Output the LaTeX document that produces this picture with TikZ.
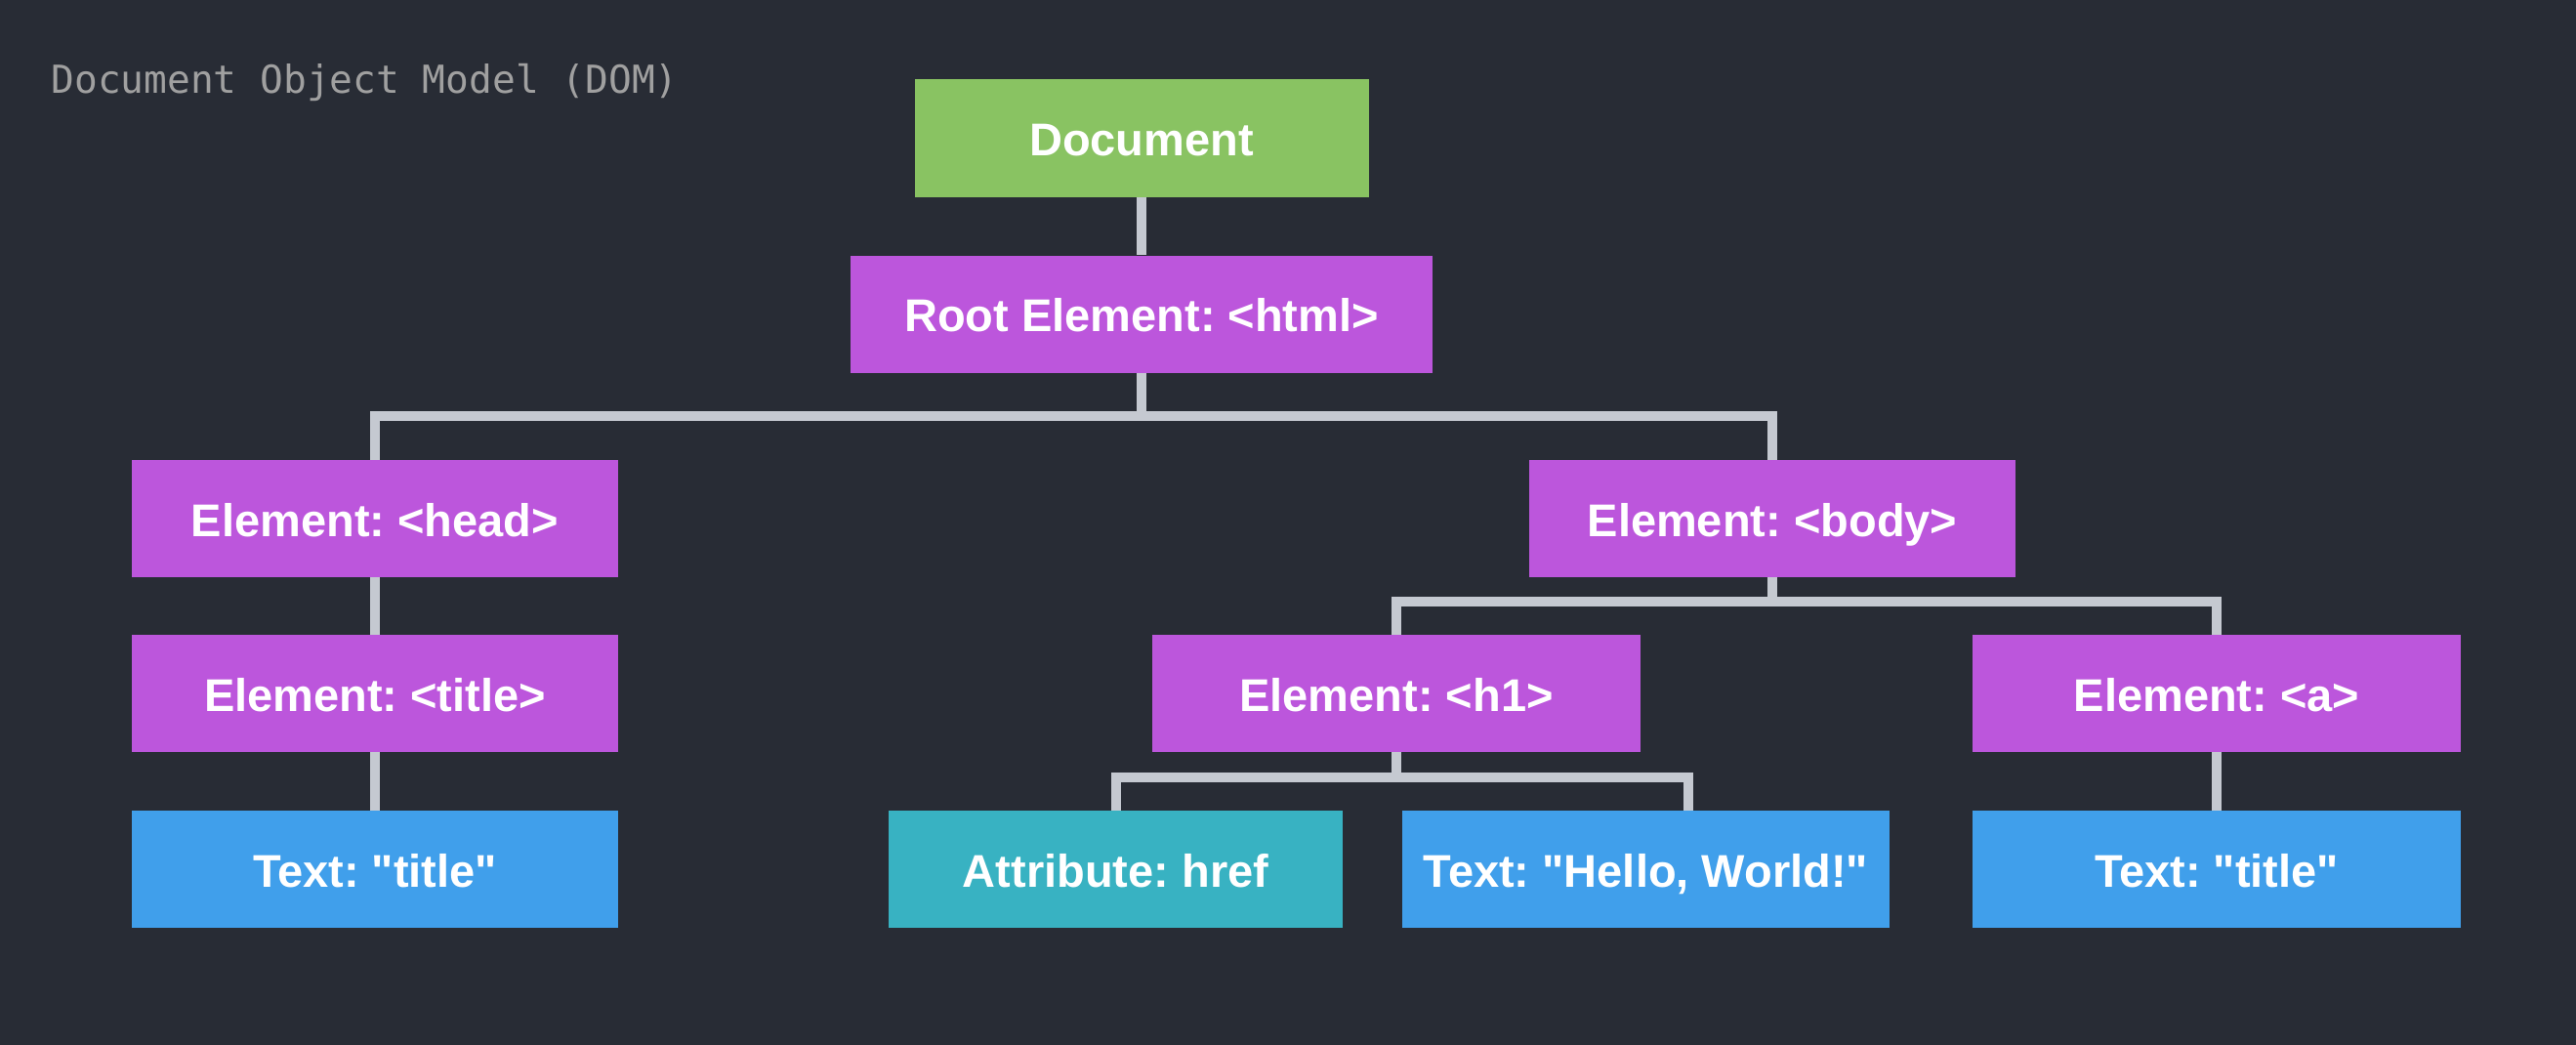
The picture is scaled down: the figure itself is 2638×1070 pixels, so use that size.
\documentclass[tikz,border=0pt]{standalone}
\usepackage{fontspec}
\setmainfont{Liberation Sans}
\newfontfamily\monofam{DejaVu Sans Mono}
\usepackage{xcolor}
\usetikzlibrary{calc,positioning}
\definecolor{bgdark}{HTML}{282C35}
\definecolor{docgreen}{HTML}{89C362}
\definecolor{elempurple}{HTML}{BC56DC}
\definecolor{textblue}{HTML}{409FEB}
\definecolor{attrteal}{HTML}{38B2C2}
\definecolor{linkgray}{HTML}{C5C9D1}
\definecolor{titlegray}{HTML}{A0A0A0}
\newcommand{\dq}{\textquotedbl}
\frenchspacing

\begin{document}
\begin{tikzpicture}[x=1pt,y=-1pt,
  box/.style={minimum height=120pt,inner sep=0pt,text=white,
    text height=46pt,text depth=10pt,
    font=\fontsize{47}{56}\selectfont\bfseries},
  docbox/.style={box,fill=docgreen,minimum width=465pt},
  elbox/.style={box,fill=elempurple,minimum width=498pt},
  txtbox/.style={box,fill=textblue,minimum width=498pt},
  attrbox/.style={box,fill=attrteal,minimum width=465pt},
  link/.style={draw=linkgray,line width=10pt}]
\fill[bgdark] (0,0) rectangle (2638,1070);
\node[anchor=base west,text=titlegray,font=\monofam\fontsize{39.5}{46}\selectfont] (caption) at (49,96) {Document Object Model (DOM)};
\node[docbox] (doc) at (1169,141.5) {Document};
\node[elbox,minimum width=596pt] (root) at (1169,321.5) {Root Element: <html>};
\node[elbox] (head) at (384,531) {Element: <head>};
\node[elbox] (body) at (1815,531) {Element: <body>};
\node[elbox] (title) at (384,710) {Element: <title>};
\node[elbox,minimum width=500pt] (h1) at (1430,710) {Element: <h1>};
\node[elbox,minimum width=500pt] (a) at (2270,710) {Element: <a>};
\node[txtbox] (ttitle) at (384,890) {Text: \dq title\dq};
\node[attrbox] (href) at (1142.5,890) {Attribute: href};
\node[txtbox,minimum width=499pt] (hello) at (1685.5,890) {Text: \dq Hello, World!\dq};
\node[txtbox,minimum width=500pt] (atitle) at (2270,890) {Text: \dq title\dq};
\coordinate (j1) at (1169,426);
\coordinate (j2) at (1815,616);
\coordinate (j3) at (1430,796);
\draw[link] (doc) -- (root);
\draw[link] (root) -- (j1);
\draw[link] (head) |- (j1) -| (body);
\draw[link] (head) -- (title);
\draw[link] (title) -- (ttitle);
\draw[link] (body) -- (j2);
\draw[link] (h1) |- (j2) -| (a);
\draw[link] (a) -- (atitle);
\draw[link] (h1) -- (j3);
\draw[link] (href) |- (j3) -| ($(hello.north)+(43,0)$);
\end{tikzpicture}
\end{document}
